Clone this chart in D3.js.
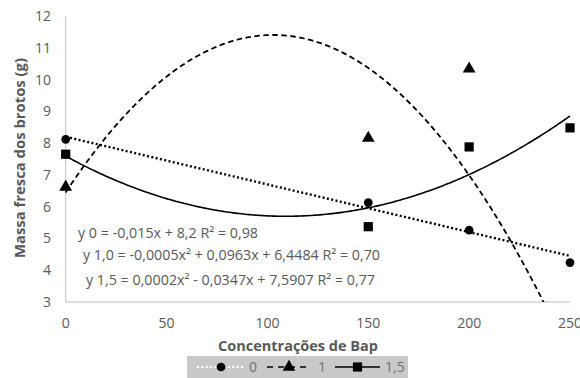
<!DOCTYPE html>
<html><head><meta charset="utf-8">
<script src="https://cdn.jsdelivr.net/npm/d3@7"></script>
<style>html,body{margin:0;padding:0;background:#fff;overflow:hidden}</style>
</head><body>
<svg id="c" width="580" height="378"></svg>
<script>
// ---- data ----
const xValues = [0, 150, 200, 250];
const series0 = [8.12, 6.13, 5.26, 4.24];
const series1 = [6.62, 8.16, 10.34, null];
const series15 = [7.65, 5.37, 7.88, 8.48];
const seriesNames = ["0", "1", "1,5"];
// fitted trend coefficients [a, b, c] for y = a x^2 + b x + c
const trend0 = [0, -0.015, 8.2];
const trend1 = [-0.000468, 0.0963, 6.4484];
const trend15 = [0.000159, -0.0347, 7.5907];
const equations = [
  "y 0 = -0,015x + 8,2 R² = 0,98",
  "y 1,0 = -0,0005x² + 0,0963x + 6,4484 R² = 0,70",
  "y 1,5 = 0,0002x² - 0,0347x + 7,5907 R² = 0,77"
];
const xTicks = [0, 50, 100, 150, 200, 250];
const yTicks = [3, 4, 5, 6, 7, 8, 9, 10, 11, 12];
const xTitle = "Concentrações de Bap";
const yTitle = "Massa fresca dos brotos (g)";

// ---- chart ----
const svg = d3.select("#c");
const FONT = "'Open Sans', 'Liberation Sans', sans-serif";
const GRAY = "#595959";
const x = d3.scaleLinear().domain([0, 250]).range([65.7, 570]);
const y = d3.scaleLinear().domain([3, 12]).range([302, 16]);

svg.append("defs").append("clipPath").attr("id", "plot")
  .append("rect").attr("x", 60).attr("y", 10).attr("width", 520).attr("height", 292);

// axis lines
svg.append("line").attr("x1", x(0)).attr("x2", x(0)).attr("y1", y(12)).attr("y2", y(3))
  .attr("stroke", "#bfbfbf").attr("stroke-width", 1);
svg.append("line").attr("x1", x(0)).attr("x2", x(250)).attr("y1", y(3)).attr("y2", y(3))
  .attr("stroke", "#bfbfbf").attr("stroke-width", 1);

// tick labels
svg.append("g").selectAll("text").data(yTicks).join("text")
  .attr("x", 51).attr("y", d => y(d) + 5)
  .attr("text-anchor", "end").attr("font-family", FONT).attr("font-size", 14)
  .attr("fill", GRAY).text(d => d);
svg.append("g").selectAll("text").data(xTicks).join("text")
  .attr("x", d => x(d)).attr("y", 328)
  .attr("text-anchor", "middle").attr("font-family", FONT).attr("font-size", 14)
  .attr("fill", GRAY).text(d => d);

// titles
svg.append("text").attr("x", 298).attr("y", 351).attr("text-anchor", "middle")
  .attr("font-family", FONT).attr("font-size", 15).attr("font-weight", "bold")
  .attr("fill", GRAY).attr("textLength", 160).attr("lengthAdjust", "spacingAndGlyphs")
  .text(xTitle);
svg.append("text").attr("transform", "translate(25,158) rotate(-90)")
  .attr("text-anchor", "middle")
  .attr("font-family", FONT).attr("font-size", 15).attr("font-weight", "bold")
  .attr("fill", GRAY).attr("textLength", 200).attr("lengthAdjust", "spacingAndGlyphs")
  .text(yTitle);

// trendlines
const styles = [
  {dash: "2,2.4", w: 2.4},
  {dash: "5.5,3.5", w: 1.8},
  {dash: null, w: 1.6}
];
const trends = [trend0, trend1, trend15];
const samples = d3.range(0, 250.01, 1);
const line = d3.line().x(d => x(d[0])).y(d => y(d[1]));
const tg = svg.append("g").attr("clip-path", "url(#plot)");
trends.forEach((t, i) => {
  const pts = samples.map(v => [v, t[0] * v * v + t[1] * v + t[2]]);
  tg.append("path").attr("d", line(pts)).attr("fill", "none")
    .attr("stroke", "#000").attr("stroke-width", styles[i].w)
    .attr("stroke-dasharray", styles[i].dash);
});

// markers
const symTypes = [d3.symbolCircle, d3.symbolTriangle, d3.symbolSquare];
const symSizes = [60, 70, 85];
const allSeries = [series0, series1, series15];
allSeries.forEach((s, i) => {
  const data = xValues.map((v, j) => [v, s[j]]).filter(d => d[1] != null);
  svg.append("g").selectAll("path").data(data).join("path")
    .attr("transform", d => `translate(${x(d[0])},${y(d[1])})`)
    .attr("d", d3.symbol().type(symTypes[i]).size(symSizes[i])())
    .attr("fill", "#000");
});

// equations
const eqPos = [[78, 238, 180], [83, 260, 297], [86, 285, 289]];
svg.append("g").selectAll("text").data(equations).join("text")
  .attr("x", (d, i) => eqPos[i][0]).attr("y", (d, i) => eqPos[i][1])
  .attr("font-family", FONT).attr("font-size", 14).attr("fill", GRAY)
  .attr("textLength", (d, i) => eqPos[i][2]).attr("lengthAdjust", "spacingAndGlyphs")
  .text(d => d);

// legend
const lg = svg.append("g");
lg.append("rect").attr("x", 187).attr("y", 356).attr("width", 221).attr("height", 24)
  .attr("fill", "#c9c9c9");
const legItems = [
  {x1: 197, x2: 245, label: 249},
  {x1: 267, x2: 311, label: 318},
  {x1: 335, x2: 380, label: 385}
];
const ly = 367;
const legStyles = [
  {dash: "2,2.4", w: 2.2},
  {dash: "6,5", w: 1.5},
  {dash: null, w: 1.5}
];
legItems.forEach((it, i) => {
  lg.append("line").attr("x1", it.x1).attr("x2", it.x2).attr("y1", ly).attr("y2", ly)
    .attr("stroke", i === 0 ? "#fff" : "#000").attr("stroke-width", legStyles[i].w)
    .attr("stroke-dasharray", legStyles[i].dash);
  lg.append("path").attr("transform", `translate(${(it.x1 + it.x2) / 2},${ly})`)
    .attr("d", d3.symbol().type(symTypes[i]).size(symSizes[i])()).attr("fill", "#000");
  lg.append("text").attr("x", it.label).attr("y", ly + 5)
    .attr("font-family", FONT).attr("font-size", 14).attr("fill", "#707070")
    .text(seriesNames[i]);
});
</script>
</body></html>
